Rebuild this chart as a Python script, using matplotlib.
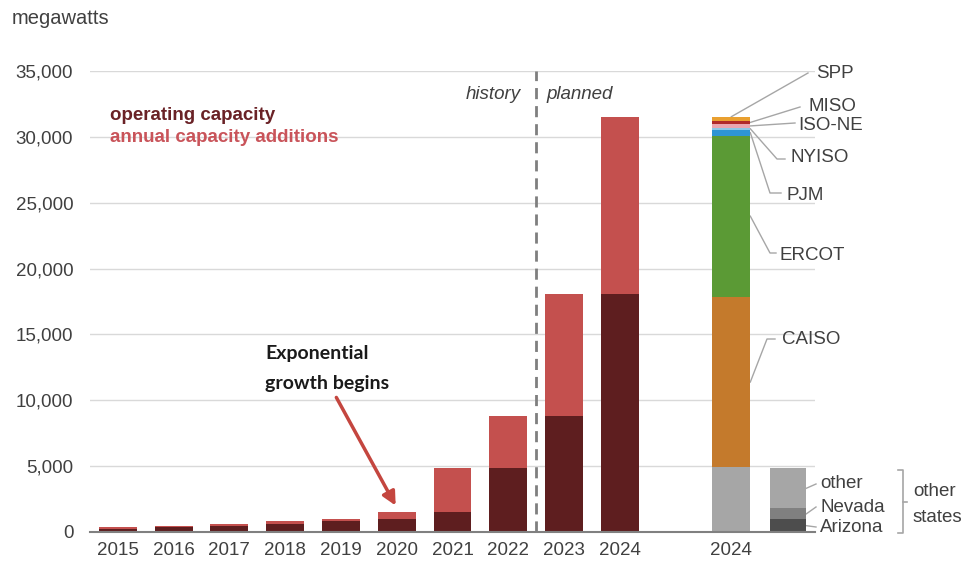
import matplotlib
matplotlib.use('Agg')
import matplotlib.pyplot as plt
import numpy as np

plt.rcParams['font.family'] = ['Liberation Sans', 'DejaVu Sans']

# history / planned capacity, megawatts
years = ['2015', '2016', '2017', '2018', '2019', '2020', '2021', '2022', '2023', '2024']
operating = [250, 350, 480, 620, 820, 1000, 1540, 4890, 8840, 18050]
additions = [100, 130, 140, 200, 180, 540, 3350, 3950, 9210, 13480]

# 2024 breakdown by region (bottom to top)
regions = ['other states', 'CAISO', 'ERCOT', 'PJM', 'NYISO', 'ISO-NE', 'MISO', 'SPP']
region_mw = [4900, 12970, 12220, 450, 150, 280, 250, 310]
region_colors = ['#a6a6a6', '#c47a2c', '#5b9a35', '#2e95d3', '#8cc8e8', '#eaa6b0', '#b02a2a', '#e9a030']

# other states breakdown (bottom to top)
states = ['Arizona', 'Nevada', 'other']
state_mw = [960, 840, 3040]
state_colors = ['#4d4d4d', '#808080', '#a6a6a6']

dark = '#5e1e1f'
light = '#c4504e'
txt = '#404040'
lead = '#a6a6a6'

W, H = 979, 566
fig = plt.figure(figsize=(W / 100, H / 100), dpi=100)
ax = fig.add_axes([90 / W, 34 / H, 725 / W, 461 / H])


def to_data(px, py):
    # image pixel -> data coordinates
    return -0.5 + (px - 90) / 725 * 13, (532 - py) / 461 * 35000


x = np.arange(len(years))
bw = 0.68
ax.bar(x, operating, bw, color=dark, zorder=3)
ax.bar(x, additions, bw, bottom=operating, color=light, zorder=3)

# stacked 2024 by region
x_reg = 11
bottoms = np.concatenate([[0], np.cumsum(region_mw)[:-1]])
ax.bar([x_reg] * len(regions), region_mw, bw, bottom=bottoms, color=region_colors, zorder=3)

# other states
x_st = 12.02
sb = np.concatenate([[0], np.cumsum(state_mw)[:-1]])
ax.bar([x_st] * len(states), state_mw, 0.65, bottom=sb, color=state_colors, zorder=3)

ax.set_xlim(-0.5, 12.5)
ax.set_ylim(0, 35000)
ax.set_yticks(range(0, 35001, 5000))
ax.set_yticklabels([f'{v:,}' for v in range(0, 35001, 5000)], fontsize=13.5, color=txt)
ax.set_xticks(list(x) + [x_reg])
ax.set_xticklabels(years + ['2024'], fontsize=13.5, color=txt)
ax.tick_params(axis='y', length=0, pad=12)
ax.tick_params(axis='x', length=0, pad=7)
ax.grid(axis='y', color='#d9d9d9', lw=1, zorder=0)
for s in ['top', 'right', 'left']:
    ax.spines[s].set_visible(False)
ax.spines['bottom'].set_color('#808080')
ax.spines['bottom'].set_linewidth(1.5)
ax.spines['bottom'].set_zorder(4)

# history / planned divider
ax.axvline(7.5, color='#7f7f7f', lw=2, ls=(0, (4, 2.5)), zorder=2)
ax.text(*to_data(521, 95), 'history', style='italic', fontsize=13.5, color=txt, ha='right', va='center')
ax.text(*to_data(546, 95), 'planned', style='italic', fontsize=13.5, color=txt, ha='left', va='center')

fig.text(12 / W, 1 - 18 / H, 'megawatts', fontsize=14.5, color=txt, va='center')
ax.text(*to_data(110, 116), 'operating capacity', fontsize=13.5, fontweight='bold', color='#6a2226', va='center')
ax.text(*to_data(110, 138), 'annual capacity additions', fontsize=13.5, fontweight='bold', color='#c9545a', va='center')

# annotation arrow
ax.text(*to_data(265, 354), 'Exponential', family=['Lato', 'DejaVu Sans'], fontweight='bold', fontsize=14, color='#1a1a1a', va='center')
ax.text(*to_data(265, 383), 'growth begins', family=['Lato', 'DejaVu Sans'], fontweight='bold', fontsize=14, color='#1a1a1a', va='center')
ax.annotate('', xy=to_data(397, 508), xytext=to_data(335, 395),
            arrowprops=dict(arrowstyle='-|>', color='#c4463f', lw=2.5, mutation_scale=20), zorder=5)

# region labels with leader lines
right_edge = x_reg + bw / 2
mids = bottoms + np.array(region_mw) / 2
label_px = {
    'SPP': ((816, 73), [(808, 73)]),
    'MISO': ((808, 107), [(800, 107)]),
    'ISO-NE': ((798, 125), [(795, 123)]),
    'NYISO': ((790, 158), [(777, 159), (785, 159)]),
    'PJM': ((787, 195), [(770, 193), (781, 193)]),
    'ERCOT': ((780, 255), [(770, 253), (776, 253)]),
    'CAISO': ((782, 340), [(767, 339), (775, 339)]),
}
for i, name in enumerate(regions):
    if name not in label_px:
        continue
    (tx, ty), pts = label_px[name]
    if name == 'SPP':
        start = (x_reg, bottoms[i] + region_mw[i])
    else:
        start = (right_edge, mids[i])
    xs = [start[0]] + [to_data(*p)[0] for p in pts]
    ys = [start[1]] + [to_data(*p)[1] for p in pts]
    ax.plot(xs, ys, color=lead, lw=1, clip_on=False, zorder=2)
    ax.text(*to_data(tx, ty), name, fontsize=13.5, color=txt, ha='left', va='center')

# other states labels
st_edge = x_st + 0.65 / 2
st_mids = sb + np.array(state_mw) / 2
st_label_y = {'Arizona': 527, 'Nevada': 507, 'other': 484}
for i, name in enumerate(states):
    ly = st_label_y[name]
    end = to_data(816, ly)
    ax.plot([st_edge, end[0]], [st_mids[i], end[1]], color=lead, lw=1, clip_on=False, zorder=2)
    ax.text(*to_data(820, ly), name, fontsize=13.5, color=txt, ha='left', va='center')

# bracket
bx = [to_data(898, 470), to_data(903, 470), to_data(903, 533), to_data(898, 533)]
ax.plot([p[0] for p in bx], [p[1] for p in bx], color=lead, lw=1.2, clip_on=False)
m1, m2 = to_data(903, 502), to_data(907, 502)
ax.plot([m1[0], m2[0]], [m1[1], m2[1]], color=lead, lw=1.2, clip_on=False)
ax.text(*to_data(913, 492), 'other', fontsize=13.5, color=txt, ha='left', va='center')
ax.text(*to_data(913, 517), 'states', fontsize=13.5, color=txt, ha='left', va='center')

fig.savefig('out.png', dpi=100)
